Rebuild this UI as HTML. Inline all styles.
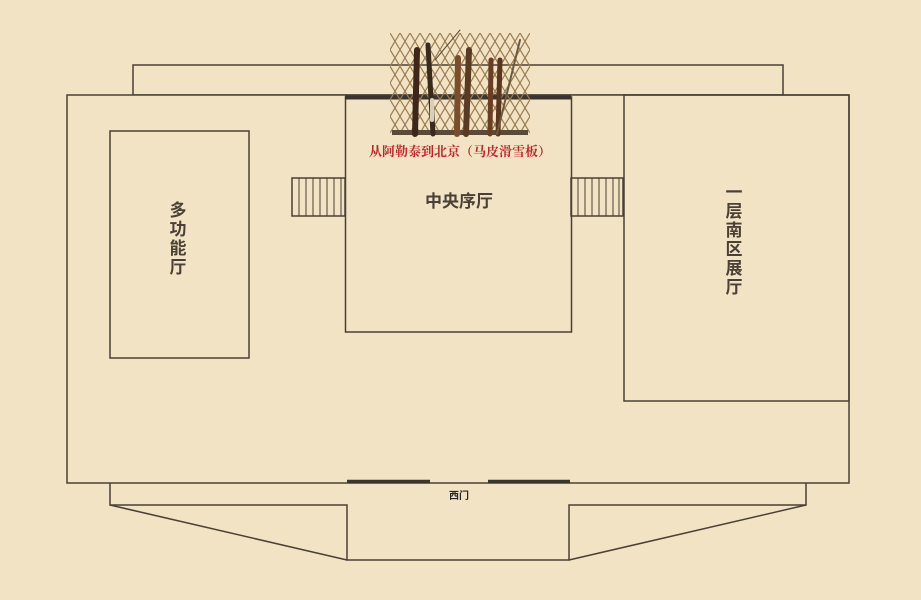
<!DOCTYPE html>
<html><head><meta charset="utf-8"><style>
html,body{margin:0;padding:0;background:#f2e3c4;}
svg{display:block}
text{font-family:"Liberation Sans","Noto Sans CJK SC",sans-serif;}
</style></head><body>
<svg width="921" height="600" viewBox="0 0 921 600" xmlns="http://www.w3.org/2000/svg">
<rect width="921" height="600" fill="#f2e3c4"/>
<g fill="none" stroke="#4a4036" stroke-width="1.5">
<rect x="133" y="65" width="650" height="30"/>
<rect x="67" y="95" width="782" height="388" fill="#f2e3c4"/>
<rect x="110" y="131" width="139" height="227"/>
<rect x="624" y="95" width="225" height="306"/>
<rect x="345.5" y="97" width="226" height="235"/>
<path d="M110 483 V505 H347 V560 H569 V505 H806 V483"/>
<path d="M110 505 L347 560 M806 505 L569 560"/>
<rect x="292" y="178" width="53" height="38"/>
<path d="M299 178V216M306 178V216M313 178V216M320 178V216M327 178V216M334 178V216M341 178V216" stroke-width="1"/>
<rect x="571" y="178" width="52" height="38"/>
<path d="M578 178V216M585 178V216M592 178V216M599 178V216M606 178V216M613 178V216M619 178V216" stroke-width="1"/>
</g>
<line x1="345" y1="97.5" x2="571" y2="97.5" stroke="#3a342e" stroke-width="4"/>
<line x1="347" y1="481.5" x2="430" y2="481.5" stroke="#3a342e" stroke-width="3.5"/>
<line x1="488" y1="481.5" x2="570" y2="481.5" stroke="#3a342e" stroke-width="3.5"/>
<defs>
<clipPath id="lc"><rect x="390" y="33" width="140" height="100"/></clipPath>
<pattern id="p1" x="0" y="0" width="10" height="100" patternUnits="userSpaceOnUse"><line x1="-30" y1="0" x2="30" y2="100" stroke="#9a7c52" stroke-width="1.2"/><line x1="-20" y1="0" x2="40" y2="100" stroke="#9a7c52" stroke-width="1.2"/><line x1="-10" y1="0" x2="50" y2="100" stroke="#9a7c52" stroke-width="1.2"/><line x1="0" y1="0" x2="60" y2="100" stroke="#9a7c52" stroke-width="1.2"/><line x1="-40" y1="0" x2="20" y2="100" stroke="#9a7c52" stroke-width="1.2"/><line x1="-50" y1="0" x2="10" y2="100" stroke="#9a7c52" stroke-width="1.2"/><line x1="-60" y1="0" x2="0" y2="100" stroke="#9a7c52" stroke-width="1.2"/></pattern>
</defs>
<g clip-path="url(#lc)" stroke="#9a7c52" stroke-width="1.2">
<path d="M330 33 l60 100 M340 33 l60 100 M350 33 l60 100 M360 33 l60 100 M370 33 l60 100 M380 33 l60 100 M390 33 l60 100 M400 33 l60 100 M410 33 l60 100 M420 33 l60 100 M430 33 l60 100 M440 33 l60 100 M450 33 l60 100 M460 33 l60 100 M470 33 l60 100 M480 33 l60 100 M490 33 l60 100 M500 33 l60 100 M510 33 l60 100 M520 33 l60 100 M530 33 l60 100"/>
<path d="M590 33 l-60 100 M580 33 l-60 100 M570 33 l-60 100 M560 33 l-60 100 M550 33 l-60 100 M540 33 l-60 100 M530 33 l-60 100 M520 33 l-60 100 M510 33 l-60 100 M500 33 l-60 100 M490 33 l-60 100 M480 33 l-60 100 M470 33 l-60 100 M460 33 l-60 100 M450 33 l-60 100 M440 33 l-60 100 M430 33 l-60 100 M420 33 l-60 100 M410 33 l-60 100 M400 33 l-60 100 M390 33 l-60 100"/>
</g>
<rect x="392" y="130" width="136" height="5" fill="#5a4a3a"/>
<g stroke-linecap="round">
<line x1="417" y1="50" x2="415" y2="134" stroke="#3e2618" stroke-width="6"/>
<line x1="428" y1="45" x2="433" y2="134" stroke="#3a2a1e" stroke-width="5"/>
<line x1="432" y1="100" x2="432" y2="120" stroke="#d8cfb8" stroke-width="4"/>
<line x1="458" y1="58" x2="457" y2="134" stroke="#7a4e2c" stroke-width="6"/>
<line x1="469" y1="50" x2="466" y2="134" stroke="#5a3a22" stroke-width="6"/>
<line x1="491" y1="60" x2="490" y2="134" stroke="#6a3e24" stroke-width="5"/>
<line x1="500" y1="60" x2="498" y2="134" stroke="#5a3520" stroke-width="5"/>
<line x1="520" y1="40" x2="497" y2="134" stroke="#6a5a40" stroke-width="2"/>
<line x1="460" y1="30" x2="435" y2="60" stroke="#5a4a36" stroke-width="1"/>
</g>
<text x="460" y="156" text-anchor="middle" font-size="13" fill="#c0262a" font-weight="bold" style="font-family:'Liberation Serif','Noto Serif CJK SC',serif">从阿勒泰到北京（马皮滑雪板）</text>
<text x="459" y="207" text-anchor="middle" font-size="17" font-weight="bold" fill="#4a4036">中央序厅</text>
<g font-size="17" font-weight="bold" fill="#4a4036" text-anchor="middle">
<text x="178" y="216">多</text><text x="178" y="235">功</text><text x="178" y="254">能</text><text x="178" y="273">厅</text>
<text x="734" y="198">一</text><text x="734" y="217">层</text><text x="734" y="236">南</text><text x="734" y="255">区</text><text x="734" y="274">展</text><text x="734" y="293">厅</text>
</g>
<text x="459" y="499" text-anchor="middle" font-size="10" font-weight="bold" fill="#2a2420">西门</text>
</svg>
</body></html>
